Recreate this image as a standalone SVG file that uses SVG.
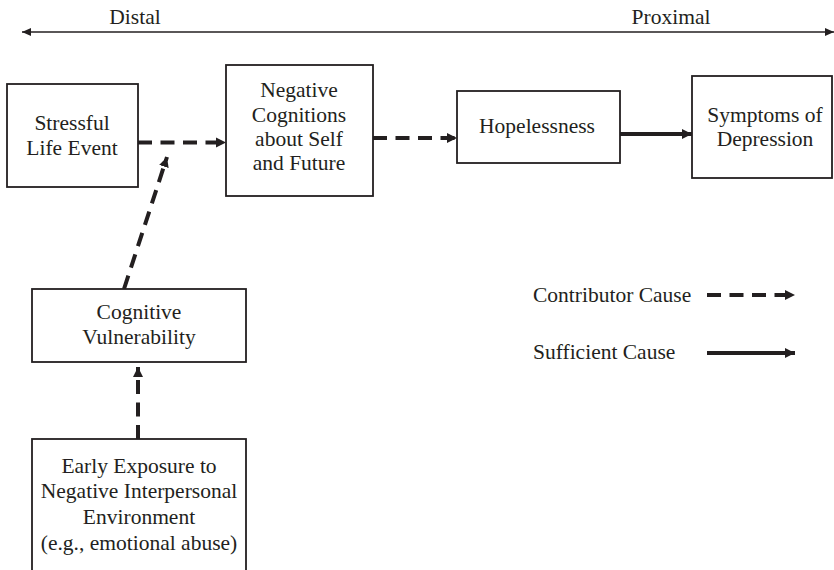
<svg xmlns="http://www.w3.org/2000/svg" width="834" height="570" viewBox="0 0 834 570">
<style>
text{font-family:"Liberation Serif","Times New Roman",serif;font-size:21.5px;fill:#231f20;text-anchor:middle}
.box{fill:#fff;stroke:#231f20;stroke-width:1.8}
.c{stroke:#231f20;stroke-width:4;fill:none}
.d{stroke-dasharray:14 8.5}
</style>
<defs>
<marker id="ah" markerUnits="userSpaceOnUse" markerWidth="12" markerHeight="12" refX="10" refY="5.5" orient="auto">
<path d="M0,0.5 L10,5.5 L0,10.5 Z" fill="#231f20"/>
</marker>
<marker id="at" markerUnits="userSpaceOnUse" markerWidth="12" markerHeight="12" refX="9" refY="5" orient="auto-start-reverse">
<path d="M0,1 L9,5 L0,9 Z" fill="#231f20"/>
</marker>
</defs>
<g id="axis">
<line x1="22" y1="32" x2="834" y2="32" stroke="#231f20" stroke-width="1.5" marker-start="url(#at)" marker-end="url(#at)"/>
<text x="135" y="24">Distal</text>
<text x="671" y="24">Proximal</text>
</g>
<g id="connectors">
<line class="c d" x1="138" y1="142.5" x2="226" y2="142.5" marker-end="url(#ah)"/>
<line class="c d" x1="124" y1="289" x2="167" y2="157" marker-end="url(#ah)"/>
<line class="c d" x1="373" y1="138" x2="457" y2="138" marker-end="url(#ah)"/>
<line class="c" x1="620" y1="134" x2="692" y2="134" marker-end="url(#ah)"/>
<line class="c d" x1="138" y1="439" x2="138" y2="367" marker-end="url(#ah)"/>
</g>
<g id="stressful">
<rect class="box" x="7" y="84" width="131" height="103"/>
<text x="72" y="130">Stressful</text>
<text x="72" y="155">Life Event</text>
</g>
<g id="negcog">
<rect class="box" x="226" y="65" width="147" height="131"/>
<text x="299" y="97">Negative</text>
<text x="299" y="122">Cognitions</text>
<text x="299" y="146">about Self</text>
<text x="299" y="170">and Future</text>
</g>
<g id="hopeless">
<rect class="box" x="457" y="91" width="163" height="72"/>
<text x="537" y="133">Hopelessness</text>
</g>
<g id="symptoms">
<rect class="box" x="692" y="76" width="140" height="102"/>
<text x="765" y="122">Symptoms of</text>
<text x="765" y="146">Depression</text>
</g>
<g id="cogvuln">
<rect class="box" x="32" y="289" width="214" height="73"/>
<text x="139" y="319">Cognitive</text>
<text x="139" y="344">Vulnerability</text>
</g>
<g id="early">
<rect class="box" x="32" y="439" width="214" height="141"/>
<text x="139" y="473">Early Exposure to</text>
<text x="139" y="498">Negative Interpersonal</text>
<text x="139" y="524">Environment</text>
<text x="139" y="550">(e.g., emotional abuse)</text>
</g>
<g id="legend">
<text x="533" y="302" style="text-anchor:start">Contributor Cause</text>
<line class="c d" x1="707" y1="295" x2="795" y2="295" marker-end="url(#ah)"/>
<text x="533" y="359" style="text-anchor:start">Sufficient Cause</text>
<line class="c" x1="707" y1="353" x2="795" y2="353" marker-end="url(#ah)"/>
</g>
</svg>
